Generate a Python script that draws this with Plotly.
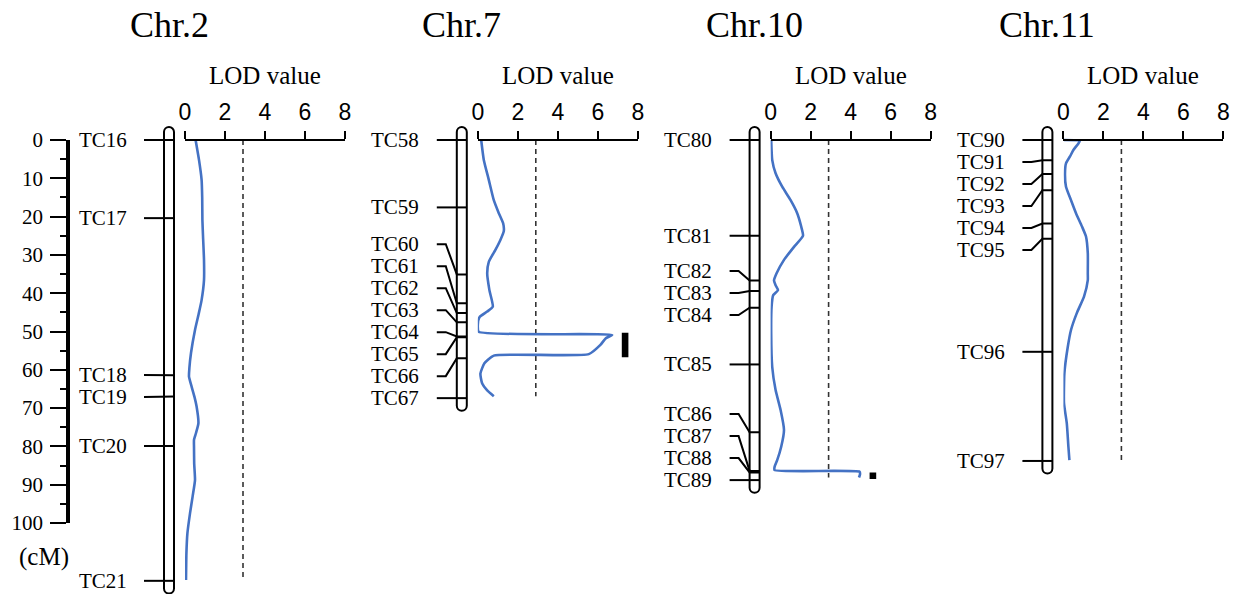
import numpy as np
import plotly.graph_objects as go

# ---------------- data ----------------
chrom_names = ["Chr.2", "Chr.7", "Chr.10", "Chr.11"]

chr2_markers = ["TC16", "TC17", "TC18", "TC19", "TC20", "TC21"]
chr2_pos = [0.0, 20.4, 61.4, 67.0, 79.9, 115.1]
chr2_lod_cm = [0, 5.2, 10.4, 15, 20.9, 25, 31.3, 36.6, 41.8, 45.5, 49.6, 55.6, 59.5, 61.8,
               64.4, 67, 69.6, 74.0, 76.5, 78.3, 80.1, 84.5, 88.8, 93.1, 97.5, 102.7, 108, 114.9]
chr2_lod = [0.53, 0.70, 0.83, 0.86, 0.87, 0.90, 0.95, 0.95, 0.83, 0.68, 0.50, 0.30, 0.22, 0.20,
            0.33, 0.47, 0.58, 0.67, 0.55, 0.45, 0.45, 0.46, 0.50, 0.38, 0.25, 0.12, 0.07, 0.05]

chr7_markers = ["TC58", "TC59", "TC60", "TC61", "TC62", "TC63", "TC64", "TC65", "TC66", "TC67"]
chr7_pos = [0.0, 17.6, 35.1, 42.6, 45.2, 47.6, 51.3, 51.5, 57.0, 67.4]
chr7_lod_cm = [0, 5.2, 10.4, 15.7, 19.1, 21.8, 23.8, 26.1, 28.7, 31.8, 34.8, 39.2, 43.5, 44.8,
               46.3, 48.3, 50.1, 50.9, 51.8, 53.5, 55.9, 56.3, 58.3, 61.0, 63.6, 65.4, 66.9]
chr7_lod = [0.17, 0.30, 0.55, 0.80, 1.05, 1.27, 1.30, 1.13, 0.88, 0.55, 0.47, 0.58, 0.75, 0.47,
            0.08, 0.00, 0.05, 6.72, 6.39, 6.13, 5.55, 0.80, 0.33, 0.13, 0.22, 0.47, 0.80]
chr7_qtl = (50.3, 56.7)

chr10_markers = ["TC80", "TC81", "TC82", "TC83", "TC84", "TC85", "TC86", "TC87", "TC88", "TC89"]
chr10_pos = [0.0, 25.0, 36.7, 39.4, 43.8, 58.6, 76.3, 86.4, 86.8, 88.8]
chr10_lod_cm = [0, 5.2, 8.7, 12.2, 15.7, 19.1, 22.6, 25.0, 27.9, 31.3, 34.8, 36.7, 37.9, 39.2,
                40.5, 43.5, 50.5, 59.2, 65.3, 70.5, 75.7, 80.1, 83.6, 85.3, 86.2, 86.6, 87.3, 88.1]
chr10_lod = [0.03, 0.08, 0.25, 0.58, 1.00, 1.33, 1.53, 1.62, 1.17, 0.67, 0.30, 0.17, 0.25, 0.37,
             0.13, 0.05, 0.03, 0.08, 0.25, 0.50, 0.67, 0.53, 0.33, 0.20, 0.20, 4.45, 4.47, 4.42]
chr10_qtl = (86.8, 88.5)

chr11_markers = ["TC90", "TC91", "TC92", "TC93", "TC94", "TC95", "TC96", "TC97"]
chr11_pos = [0.0, 5.3, 8.9, 13.1, 21.8, 25.8, 55.3, 83.8]
chr11_lod_cm = [0, 0.2, 0.9, 2.6, 4.3, 6.1, 8.7, 12.2, 15.7, 19.1, 22.6, 25.2, 29.6, 34.8, 36.6,
                40.9, 45.2, 49.6, 54.0, 60.9, 68.7, 74.0, 80.1, 83.6]
chr11_lod = [0.03, 0.82, 0.75, 0.50, 0.33, 0.13, 0.08, 0.13, 0.38, 0.63, 0.93, 1.13, 1.22, 1.22,
             1.22, 1.03, 0.67, 0.38, 0.22, 0.05, 0.03, 0.17, 0.25, 0.30]

lod_threshold = 2.9
lod_ticks = [0, 2, 4, 6, 8]
cm_ticks = list(range(0, 101, 10))

panels = [
    (chr2_markers, chr2_pos, chr2_lod_cm, chr2_lod, None),
    (chr7_markers, chr7_pos, chr7_lod_cm, chr7_lod, chr7_qtl),
    (chr10_markers, chr10_pos, chr10_lod_cm, chr10_lod, chr10_qtl),
    (chr11_markers, chr11_pos, chr11_lod_cm, chr11_lod, None),
]

# ---------------- layout geometry ----------------
W, H = 1239, 594
PX_PER_CM = 3.83          # vertical scale
Y0 = 140                  # pixel row of 0 cM
PANEL_X0 = 164            # left edge of the first chromosome bar
PANEL_STEP = 292.8
BAR_W = 10
LOD_W = 160               # pixel width of the 0-8 LOD axis
LABEL_GAP = 22 / PX_PER_CM

SERIF = "Liberation Serif, Times New Roman, serif"
SANS = "Liberation Sans, Arial, sans-serif"
BLUE = "#4472C4"


def spread_labels(pos, gap):
    """Push marker labels apart so they are at least `gap` cM from each other."""
    lo, hi = pos[0], pos[-1]
    groups = []
    for i, p in enumerate(pos):
        groups.append([i, i, p])
        while len(groups) > 1:
            a, b = groups[-2], groups[-1]
            a_bottom = a[2] + (a[1] - a[0]) * gap
            if b[2] - a_bottom >= gap - 1e-9:
                break
            s, e = a[0], b[1]
            n = e - s + 1
            top = float(np.mean(pos[s:e + 1])) - (n - 1) * gap / 2
            top = min(max(top, lo), hi - (n - 1) * gap)
            groups[-2:] = [[s, e, top]]
    out = []
    for s, e, top in groups:
        out += [top + k * gap for k in range(e - s + 1)]
    return out


def bar_path(left, right, top, bottom):
    """Rounded chromosome outline in x-pixel / cM coordinates."""
    r = (right - left) / 2
    ry = r / PX_PER_CM
    k = 0.5523
    cx = left + r
    return (f"M {left},{top + ry} L {left},{bottom - ry} "
            f"C {left},{bottom - ry + k * ry} {cx - k * r},{bottom} {cx},{bottom} "
            f"C {cx + k * r},{bottom} {right},{bottom - ry + k * ry} {right},{bottom - ry} "
            f"L {right},{top + ry} "
            f"C {right},{top + ry - k * ry} {cx + k * r},{top} {cx},{top} "
            f"C {cx - k * r},{top} {left},{top + ry - k * ry} {left},{top + ry} Z")


fig = go.Figure()
shapes = []
annotations = []
layout_axes = {}

# cM scale on the far left
fig.add_trace(go.Scatter(x=[None], y=[None], xaxis="x", yaxis="y2", showlegend=False))

for i, (name, (markers, pos, lcm, lod, qtl)) in enumerate(zip(chrom_names, panels)):
    xc = PANEL_X0 + PANEL_STEP * i
    ax = f"x{i + 2}"
    lod_left = xc + 21

    # chromosome bar
    shapes.append(dict(type="path", xref="x", yref="y", layer="below",
                       path=bar_path(xc, xc + BAR_W, pos[0] - 3.4, pos[-1] + 3.3),
                       line=dict(color="black", width=2), fillcolor="white"))

    # marker connectors
    labels = spread_labels(pos, LABEL_GAP)
    cx, cy = [], []
    for p, lab in zip(pos, labels):
        cx += [xc - 20, xc - 11, xc, xc + BAR_W, None]
        cy += [lab, lab, p, p, None]
    fig.add_trace(go.Scatter(x=cx, y=cy, xaxis="x", yaxis="y", mode="lines",
                             line=dict(color="black", width=2), hoverinfo="skip",
                             showlegend=False))
    for m, lab in zip(markers, labels):
        annotations.append(dict(x=xc - 35.5, y=lab, xref="x", yref="y", text=m,
                                showarrow=False, xanchor="right", yanchor="middle",
                                font=dict(family=SERIF, size=21, color="black")))

    # LOD threshold
    fig.add_trace(go.Scatter(x=[lod_threshold, lod_threshold], y=[0, lcm[-1]],
                             xaxis=ax, yaxis="y", mode="lines",
                             line=dict(color="#333333", width=1.6, dash="5px,4px"),
                             hoverinfo="skip", showlegend=False))
    # LOD profile
    fig.add_trace(go.Scatter(x=lod, y=lcm, xaxis=ax, yaxis="y", mode="lines",
                             line=dict(color=BLUE, width=2.6, shape="spline", smoothing=0.5),
                             showlegend=False))

    # QTL interval
    if qtl is not None:
        qx = max(lod) + 0.48
        shapes.append(dict(type="rect", xref=ax, yref="y", x0=qx, x1=qx + 0.33,
                           y0=qtl[0], y1=qtl[1], fillcolor="black", line=dict(width=0)))

    layout_axes[f"xaxis{i + 2}"] = dict(
        domain=[lod_left / W, (lod_left + LOD_W) / W], range=[0, 8],
        side="top", anchor="free", position=1 - Y0 / H, automargin=False,
        showline=True, linecolor="black", linewidth=1.6,
        ticks="outside", ticklen=8, tickwidth=1.6, tickcolor="black",
        tickvals=lod_ticks, ticktext=[str(t) for t in lod_ticks],
        tickfont=dict(family=SANS, size=23, color="black"), ticklabelstandoff=2,
        showgrid=False, zeroline=False, fixedrange=True)

    annotations.append(dict(x=4, y=1 - 75 / H, xref=ax, yref="paper", text="LOD value",
                            showarrow=False, xanchor="center", yanchor="middle",
                            font=dict(family=SERIF, size=25, color="black")))
    annotations.append(dict(x=xc + BAR_W / 2, y=1 - 25 / H, xref="x", yref="paper",
                            text=name, showarrow=False, xanchor="center", yanchor="middle",
                            font=dict(family=SERIF, size=36, color="black")))

annotations.append(dict(x=44, y=1 - 557 / H, xref="x", yref="paper", text="(cM)",
                        showarrow=False, xanchor="center", yanchor="middle",
                        font=dict(family=SERIF, size=25, color="black")))

fig.update_layout(
    width=W, height=H, margin=dict(l=0, r=0, t=0, b=0, autoexpand=False),
    paper_bgcolor="white", plot_bgcolor="rgba(0,0,0,0)",
    xaxis=dict(domain=[0, 1], range=[0, W], visible=False, fixedrange=True,
               automargin=False),
    yaxis=dict(domain=[0, 1], range=[(H - Y0) / PX_PER_CM, -Y0 / PX_PER_CM],
               visible=False, fixedrange=True, automargin=False),
    yaxis2=dict(domain=[(H - (Y0 + 100 * PX_PER_CM)) / H, (H - Y0) / H], range=[100, 0],
                anchor="free", position=68 / W, side="left", automargin=False,
                showline=True, linecolor="black", linewidth=3.5,
                ticks="outside", ticklen=16, tickwidth=2, tickcolor="black",
                tickvals=cm_ticks, ticklabelstandoff=3,
                minor=dict(tickvals=list(range(5, 100, 10)), ticks="outside", ticklen=6,
                           tickwidth=2, tickcolor="black"),
                tickfont=dict(family=SERIF, size=21, color="black"),
                showgrid=False, zeroline=False, fixedrange=True),
    shapes=shapes, annotations=annotations, showlegend=False,
    **layout_axes,
)

fig.write_html("out.html")
